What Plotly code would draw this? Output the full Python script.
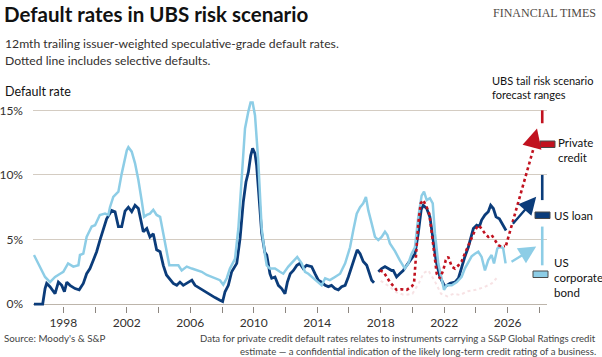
import plotly.graph_objects as go

# ---------------- data ----------------
bond_years = [1996.15, 1996.42, 1996.53, 1996.85, 1997.16, 1997.48, 1997.8, 1998.0, 1998.3, 1998.63,
              1998.95, 1999.05, 1999.26, 1999.47, 1999.79, 2000.0, 2000.3, 2000.63, 2000.84, 2000.94,
              2001.15, 2001.47, 2001.68, 2001.89, 2002.0, 2002.1, 2002.31, 2002.52, 2002.73, 2002.94,
              2003.09, 2003.26, 2003.46, 2003.67, 2003.88, 2004.1, 2004.3, 2004.5, 2004.68, 2004.93,
              2005.25, 2005.46, 2005.78, 2006.1, 2006.4, 2006.72, 2007.04, 2007.35, 2007.56, 2007.87,
              2008.08, 2008.3, 2008.5, 2008.82, 2009.03, 2009.24, 2009.45, 2009.66, 2009.8, 2009.93,
              2010.08, 2010.29, 2010.5, 2010.71, 2010.82, 2011.02, 2011.34, 2011.65, 2011.86, 2012.18,
              2012.5, 2012.74, 2013.02, 2013.23, 2013.44, 2013.75, 2014.07, 2014.28, 2014.5, 2014.8,
              2015.12, 2015.44, 2015.76, 2016.07, 2016.27, 2016.49, 2016.7, 2016.9, 2017.07, 2017.22,
              2017.43, 2017.64, 2017.85, 2018.06, 2018.27, 2018.42, 2018.58, 2018.9, 2019.2, 2019.52,
              2019.74, 2019.95, 2020.16, 2020.37, 2020.58, 2020.73, 2020.9, 2021.1, 2021.28, 2021.42,
              2021.63, 2021.84, 2021.99, 2022.16, 2022.48, 2022.8, 2023.1, 2023.3, 2023.52, 2023.73,
              2023.94, 2024.15, 2024.36, 2024.57, 2024.78, 2024.99, 2025.14, 2025.35, 2025.56, 2025.72,
              2025.87]
bond_rates = [3.8, 3.15, 2.9, 2.1, 1.7, 2.1, 2.35, 2.5, 3.15, 2.9,
              3.0, 3.8, 3.9, 5.2, 6.0, 6.1, 6.9, 7.0, 6.9, 7.5,
              8.3, 8.7, 10.1, 11.4, 11.9, 12.15, 11.8, 10.9, 9.6, 8.0,
              6.75, 6.9, 7.0, 7.3, 6.9, 6.75, 5.5, 4.2, 3.0, 3.0,
              3.0, 2.6, 2.9, 2.75, 2.6, 2.5, 2.25, 2.1, 2.0, 1.85,
              1.5, 2.0, 2.75, 3.5, 5.85, 10.2, 13.6, 14.9, 15.6, 15.6,
              14.6, 11.0, 5.85, 3.8, 3.0, 2.75, 2.75, 2.5, 2.35, 2.9,
              3.3, 3.65, 3.15, 2.5, 2.35, 2.0, 1.7, 1.45, 2.0, 1.85,
              2.1, 2.35, 3.15, 4.4, 5.7, 7.0, 7.5, 7.8, 8.3, 7.25,
              6.25, 5.2, 4.95, 5.2, 5.6, 5.35, 4.7, 4.1, 3.4, 2.75,
              3.15, 3.9, 4.4, 6.75, 8.4, 8.7, 8.05, 8.2, 7.8, 5.45,
              3.15, 1.85, 1.1, 1.45, 1.45, 1.7, 2.1, 2.75, 3.3, 3.7,
              3.9, 4.05, 3.65, 2.6, 3.4, 3.8, 3.15, 4.3, 4.45, 4.3,
              3.15]

loan_years = [1996.15, 1996.7, 1996.85, 1996.95, 1997.16, 1997.48, 1997.69, 1997.9, 1998.07, 1998.22,
              1998.42, 1998.74, 1999.0, 1999.26, 1999.47, 1999.68, 1999.89, 2000.1, 2000.31, 2000.52,
              2000.73, 2001.05, 2001.26, 2001.47, 2001.68, 2001.89, 2002.1, 2002.31, 2002.52, 2002.73,
              2002.88, 2003.04, 2003.26, 2003.46, 2003.67, 2003.88, 2004.1, 2004.3, 2004.5, 2004.73,
              2004.93, 2005.15, 2005.35, 2005.56, 2005.78, 2006.1, 2006.3, 2006.61, 2006.93, 2007.24,
              2007.56, 2007.87, 2008.04, 2008.19, 2008.4, 2008.61, 2008.82, 2008.93, 2009.14, 2009.34,
              2009.51, 2009.66, 2009.81, 2009.93, 2010.08, 2010.18, 2010.35, 2010.5, 2010.7, 2010.82,
              2011.02, 2011.13, 2011.34, 2011.55, 2011.76, 2011.97, 2012.12, 2012.3, 2012.5, 2012.72,
              2012.9, 2013.12, 2013.33, 2013.65, 2013.86, 2014.07, 2014.28, 2014.5, 2014.7, 2014.9,
              2015.12, 2015.33, 2015.54, 2015.76, 2015.96, 2016.17, 2016.38, 2016.52, 2016.7, 2016.9,
              2017.12, 2017.28, 2017.43, 2017.58, 2017.7, 2017.85, 2018.06, 2018.27, 2018.48, 2018.69,
              2018.79, 2019.0, 2019.2, 2019.42, 2019.64, 2019.85, 2020.06, 2020.16, 2020.37, 2020.55,
              2020.68, 2020.9, 2021.1, 2021.3, 2021.5, 2021.73, 2022.05, 2022.37, 2022.68, 2022.9,
              2023.1, 2023.3, 2023.52, 2023.73, 2023.84, 2024.05, 2024.22, 2024.36, 2024.57, 2024.78,
              2024.93, 2025.1, 2025.27, 2025.48, 2025.69, 2025.9]
loan_rates = [0.0, 0.0, 1.2, 1.6, 1.35, 0.8, 1.7, 1.45, 0.95, 1.7,
              1.45, 1.2, 1.1, 1.6, 2.35, 2.75, 3.4, 4.05, 4.95, 5.85,
              6.6, 7.25, 7.15, 6.0, 6.0, 7.2, 7.5, 7.15, 7.65, 7.4,
              6.5, 5.6, 5.85, 5.2, 5.45, 4.2, 4.05, 3.0, 2.25, 1.85,
              1.6, 1.45, 1.7, 1.45, 1.6, 1.85, 1.45, 1.2, 0.95, 0.7,
              0.5, 0.3, 0.2, 0.95, 1.45, 2.5, 3.0, 3.15, 5.1, 7.9,
              9.45, 10.2, 11.5, 12.05, 11.65, 10.75, 8.0, 5.5, 4.0, 3.8,
              2.35, 2.0, 2.1, 1.45, 1.2, 0.8, 1.7, 2.35, 2.6, 3.0,
              3.15, 2.75, 3.0, 2.9, 2.35, 1.85, 1.7, 1.45, 1.35, 1.45,
              1.2, 1.1, 1.35, 1.45, 2.1, 2.9, 3.65, 4.2, 3.9, 3.3,
              3.0, 2.35, 1.85, 1.65, None, 2.5, 2.75, 2.9, 2.75, 2.6,
              2.6, 2.1, 2.35, 2.6, 3.0, 3.4, 3.8, 3.9, 5.5, 7.3,
              7.65, 7.4, 6.75, 5.2, 3.3, 2.1, 1.35, 1.6, 1.7, 2.0,
              2.9, 3.65, 4.4, 5.45, 5.85, 6.1, 6.0, 6.5, 6.9, 7.15,
              7.65, 7.4, 6.75, 6.6, 6.1, 5.7]

private_years = [2017.95, 2018.17, 2018.38, 2018.58, 2018.79, 2019.0, 2019.32, 2019.64, 2019.95, 2020.1,
                 2020.22, 2020.37, 2020.52, 2020.68, 2020.9, 2021.06, 2021.2, 2021.36, 2021.53, 2021.73,
                 2021.94, 2022.1, 2022.26, 2022.48, 2022.68, 2022.9, 2023.1, 2023.3, 2023.52, 2023.73,
                 2023.94, 2024.15, 2024.36, 2024.57, 2024.78, 2024.99, 2025.2, 2025.41, 2025.62, 2025.83]
private_rates = [2.6, 2.5, 2.1, 1.7, 1.4, 1.1, 1.15, 1.1, 1.35, 1.6,
                 3.65, 6.25, 7.8, 8.05, 7.5, 7.0, 5.7, 3.9, 2.35, 2.0,
                 2.6, 3.4, 3.65, 2.9, 2.75, 3.0, 3.3, 3.9, 4.55, 5.2,
                 5.7, 6.1, 5.85, 5.45, 5.2, 5.35, 4.95, 4.55, 4.45, 4.5]

# faint excl.-selective-defaults private credit line
private_ex_years = [2018.0, 2018.5, 2019.0, 2019.5, 2020.0, 2020.4, 2020.7, 2021.0, 2021.4, 2021.8,
                    2022.2, 2022.6, 2023.0, 2023.5, 2024.0, 2024.5, 2025.0, 2025.3]
private_ex_rates = [1.8, 1.4, 0.9, 0.7, 0.8, 1.6, 2.4, 2.6, 1.8, 0.8,
                    0.6, 0.8, 0.7, 1.0, 1.1, 1.3, 1.6, 2.0]

# UBS tail-risk forecast arrows (start year, start rate, end year, end rate)
fc_names = ["Private credit", "US loan", "US corporate bond"]
fc_start_year = [2025.9, 2026.25, 2026.15]
fc_start_rate = [4.55, 6.1, 3.2]
fc_end_year = [2027.85, 2027.8, 2027.8]
fc_end_rate = [13.6, 8.3, 4.45]
# forecast ranges
range_year = 2028.18
range_low = [14.0, 8.05, 3.0]
range_high = [15.0, 10.0, 6.0]

x_tickvals = list(range(1998, 2029, 2))
x_ticktext = [str(v) if (v - 1998) % 4 == 0 else "" for v in x_tickvals]
y_tickvals = [0, 5, 10, 15]
y_ticktext = ["0%", "5%", "10%", "15%"]

# ---------------- style ----------------
C_BOND = "#8dcde6"
C_LOAN = "#0b3c7a"
C_PRIV = "#c1121f"
GRID = "#d4ccc2"
TXT = "#33302e"
FONT = "Lato"

W, H = 602, 357
L, R, T, B = 33, 55, 100, 51
PW, PH = W - L - R, H - T - B


def px(x):
    return (x - L) / PW


def py(y):
    return (H - B - y) / PH


fig = go.Figure()

fig.add_trace(go.Scatter(x=private_ex_years, y=private_ex_rates, mode="lines",
                         line=dict(color="rgba(193,18,31,0.12)", width=2, dash="dot"),
                         hoverinfo="skip"))
fig.add_trace(go.Scatter(x=loan_years, y=loan_rates, mode="lines", connectgaps=False,
                         line=dict(color=C_LOAN, width=2.8), name="US loan"))
fig.add_trace(go.Scatter(x=bond_years, y=bond_rates, mode="lines",
                         line=dict(color=C_BOND, width=2.5), name="US corporate bond"))
fig.add_trace(go.Scatter(x=private_years, y=private_rates, mode="lines",
                         line=dict(color=C_PRIV, width=2.6, dash="dot"), name="Private credit"))

colors = [C_PRIV, C_LOAN, C_BOND]
for i in range(3):
    fig.add_trace(go.Scatter(x=[range_year, range_year], y=[range_low[i], range_high[i]],
                             mode="lines", line=dict(color=colors[i], width=2.6), hoverinfo="skip"))
    if i == 0:
        fig.add_trace(go.Scatter(x=[fc_start_year[i], fc_end_year[i]],
                                 y=[fc_start_rate[i], fc_end_rate[i] - 0.6],
                                 mode="lines", line=dict(color=colors[i], width=2.6, dash="dot"),
                                 hoverinfo="skip"))
        fig.add_annotation(x=fc_end_year[i], y=fc_end_rate[i], xref="x", yref="y",
                           ax=fc_end_year[i] - (fc_end_year[i] - fc_start_year[i]) * 0.12,
                           ay=fc_end_rate[i] - (fc_end_rate[i] - fc_start_rate[i]) * 0.12,
                           axref="x", ayref="y", text="", showarrow=True,
                           arrowhead=2, arrowsize=1.5, arrowwidth=2.6, arrowcolor=colors[i],
                           standoff=0)
    else:
        fig.add_annotation(x=fc_end_year[i], y=fc_end_rate[i], xref="x", yref="y",
                           ax=fc_start_year[i], ay=fc_start_rate[i], axref="x", ayref="y",
                           text="", showarrow=True, arrowhead=2, arrowsize=1.45,
                           arrowwidth=2.4, arrowcolor=colors[i], standoff=0)

swatches = [(540, 555, 141, 147.5, C_PRIV), (535, 550, 212, 218.5, C_LOAN), (533, 548, 271, 277.5, C_BOND)]
for x0, x1, y0, y1, c in swatches:
    fig.add_shape(type="rect", xref="paper", yref="paper", x0=px(x0), x1=px(x1), y0=py(y1), y1=py(y0),
                  fillcolor=c, line=dict(color="#4a4a4a", width=1))


def ann(text, x, y, size, xanchor="left", color=TXT, family=FONT, yanchor="middle"):
    fig.add_annotation(text=text, x=px(x), y=py(y), xref="paper", yref="paper", showarrow=False,
                       xanchor=xanchor, yanchor=yanchor, align=xanchor,
                       font=dict(size=size, color=color, family=family))


ann("Private<br>credit", 556, 150, 11.5, color="#111")
ann("US loan", 552, 215, 11.5, color="#111")
ann("US<br>corporate<br>bond", 552, 277, 11.5, color="#111")
ann("UBS tail risk scenario<br>forecast ranges", 490, 87, 11, color="#111")

ann("<b>Default rates in UBS risk scenario</b>", 2, 14, 20.5, color="#111")
ann("FINANCIAL TIMES", 598, 13, 12, xanchor="right", color="#4f4a45", family="Liberation Serif")
ann("12mth trailing issuer-weighted speculative-grade default rates.", 3, 44, 12.2)
ann("Dotted line includes selective defaults.", 3, 60, 12.2)
ann("Default rate", 3, 91, 12.5, color="#111")
ann("Source: Moody's & S&P", 2, 338, 9.8, color="#444")
ann("Data for private credit default rates relates to instruments carrying a S&P Global Ratings credit",
    598, 338, 9.6, xanchor="right", color="#444")
ann("estimate \u2014 a confidential indication of the likely long-term credit rating of a business.",
    598, 351, 9.6, xanchor="right", color="#444")

fig.update_layout(
    width=W, height=H, margin=dict(l=L, r=R, t=T, b=B, autoexpand=False),
    paper_bgcolor="white", plot_bgcolor="white", showlegend=False,
    font=dict(family=FONT, color=TXT, size=12),
    xaxis=dict(range=[1996.09, 2028.48], tickvals=x_tickvals, ticktext=x_ticktext,
               ticks="outside", ticklen=6, tickcolor="#8c8680", tickwidth=1,
               showgrid=False, zeroline=False, showline=False, automargin=False,
               tickfont=dict(size=12, color=TXT, family=FONT)),
    yaxis=dict(range=[-0.15, 15.8], tickvals=y_tickvals, ticktext=y_ticktext,
               showgrid=True, gridcolor=GRID, gridwidth=1.2, zeroline=True, zerolinecolor="#bdb5ab",
               zerolinewidth=1.2, showline=False, ticks="", ticklabelstandoff=9, automargin=False,
               tickfont=dict(size=12, color=TXT, family=FONT)),
)

fig.write_html("out.html", config={"displayModeBar": False},
               post_script="document.body.style.margin='0';document.body.style.overflow='hidden';")
